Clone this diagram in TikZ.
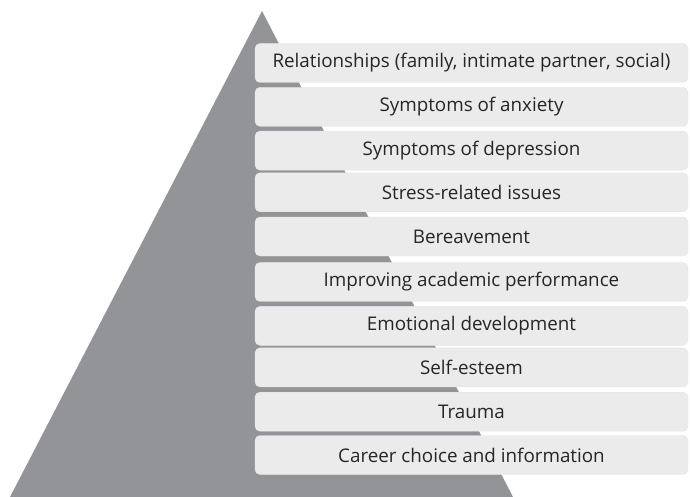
\documentclass[tikz,border=0pt]{standalone}
\usepackage{fontspec}
\setmainfont{Open Sans}
\usetikzlibrary{matrix, positioning}
\definecolor{pyramidgray}{HTML}{939497}
\definecolor{layergray}{HTML}{EBEBEB}

\begin{document}
\begin{tikzpicture}[x=1pt,y=-1pt]
  \useasboundingbox (0,0) rectangle (690,497);
  \fill [pyramidgray] (262,11) -- (513,497) -- (10,497) -- cycle;
  \matrix (pyramid) at (471.5,259)
    [matrix of nodes,%
     nodes={rectangle, rounded corners=5pt, fill=layergray, draw=black!10,
            minimum width=433pt, minimum height=39pt, inner sep=0pt,
            text=black!85, font=\fontsize{18.8}{22}\selectfont},
     row sep={43.8pt,between origins}]
  {
    Relationships (family, intimate partner, social) \\
    Symptoms of anxiety \\
    Symptoms of depression \\
    Stress-related issues \\
    Bereavement \\
    Improving academic performance \\
    Emotional development \\
    Self-esteem \\
    Trauma \\
    Career choice and information \\
  };
\end{tikzpicture}
\end{document}
